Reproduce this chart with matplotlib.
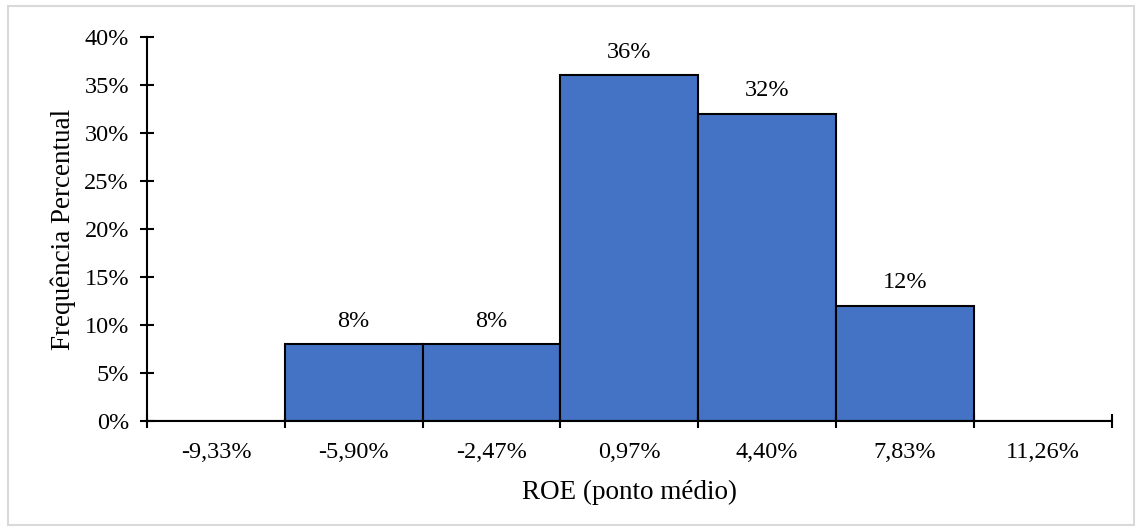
import numpy as np
import matplotlib.pyplot as plt
from matplotlib.patches import Rectangle
from matplotlib.ticker import FixedLocator, PercentFormatter

plt.rcParams['font.family'] = ['Liberation Serif', 'DejaVu Serif']

categorias = ['-9,33%', '-5,90%', '-2,47%', '0,97%', '4,40%', '7,83%', '11,26%']
frequencia = [0, 8, 8, 36, 32, 12, 0]
rotulos = ['', '8%', '8%', '36%', '32%', '12%', '']


def main():
    fig = plt.figure(figsize=(11.4, 5.29), dpi=100)
    ax = fig.add_axes([0.129, 0.204, 0.846, 0.726])

    x = np.arange(len(categorias))
    barras = ax.bar(x, frequencia, width=1.0, color='#4472C4',
                    edgecolor='black', linewidth=1.5)
    for b, r in zip(barras, rotulos):
        if r:
            ax.annotate(r, (b.get_x() + b.get_width() / 2, b.get_height()),
                        xytext=(0, 9), textcoords='offset points',
                        ha='center', va='bottom', fontsize=17.5)

    ax.set_xlim(-0.5, len(categorias) - 0.5)
    ax.set_ylim(0, 40)
    ax.yaxis.set_major_locator(FixedLocator(np.arange(0, 41, 5)))
    ax.yaxis.set_major_formatter(PercentFormatter(decimals=0))

    # marcas nas divisas das classes, rotulos no centro
    ax.xaxis.set_major_locator(FixedLocator(np.arange(-0.5, len(categorias), 1.0)))
    ax.xaxis.set_ticklabels([])
    ax.xaxis.set_minor_locator(FixedLocator(x))
    ax.xaxis.set_ticklabels(categorias, minor=True)
    ax.tick_params(axis='x', which='minor', length=0, pad=15, labelsize=17.5)
    ax.tick_params(axis='both', which='major', direction='inout', length=10,
                   width=1.5, labelsize=17.5)
    ax.tick_params(axis='y', pad=8)

    for lado in ['top', 'right']:
        ax.spines[lado].set_visible(False)
    for lado in ['left', 'bottom']:
        ax.spines[lado].set_linewidth(1.5)

    ax.set_xlabel('ROE (ponto médio)', fontsize=19.5, labelpad=12)
    ax.set_ylabel('Frequência Percentual', fontsize=19.5, labelpad=6)

    fig.patches.append(Rectangle((0.007, 0.008), 0.988, 0.98, transform=fig.transFigure,
                                 fill=False, edgecolor='#D9D9D9', linewidth=1.5))
    fig.savefig('out.png', dpi=100)


if __name__ == '__main__':
    main()
